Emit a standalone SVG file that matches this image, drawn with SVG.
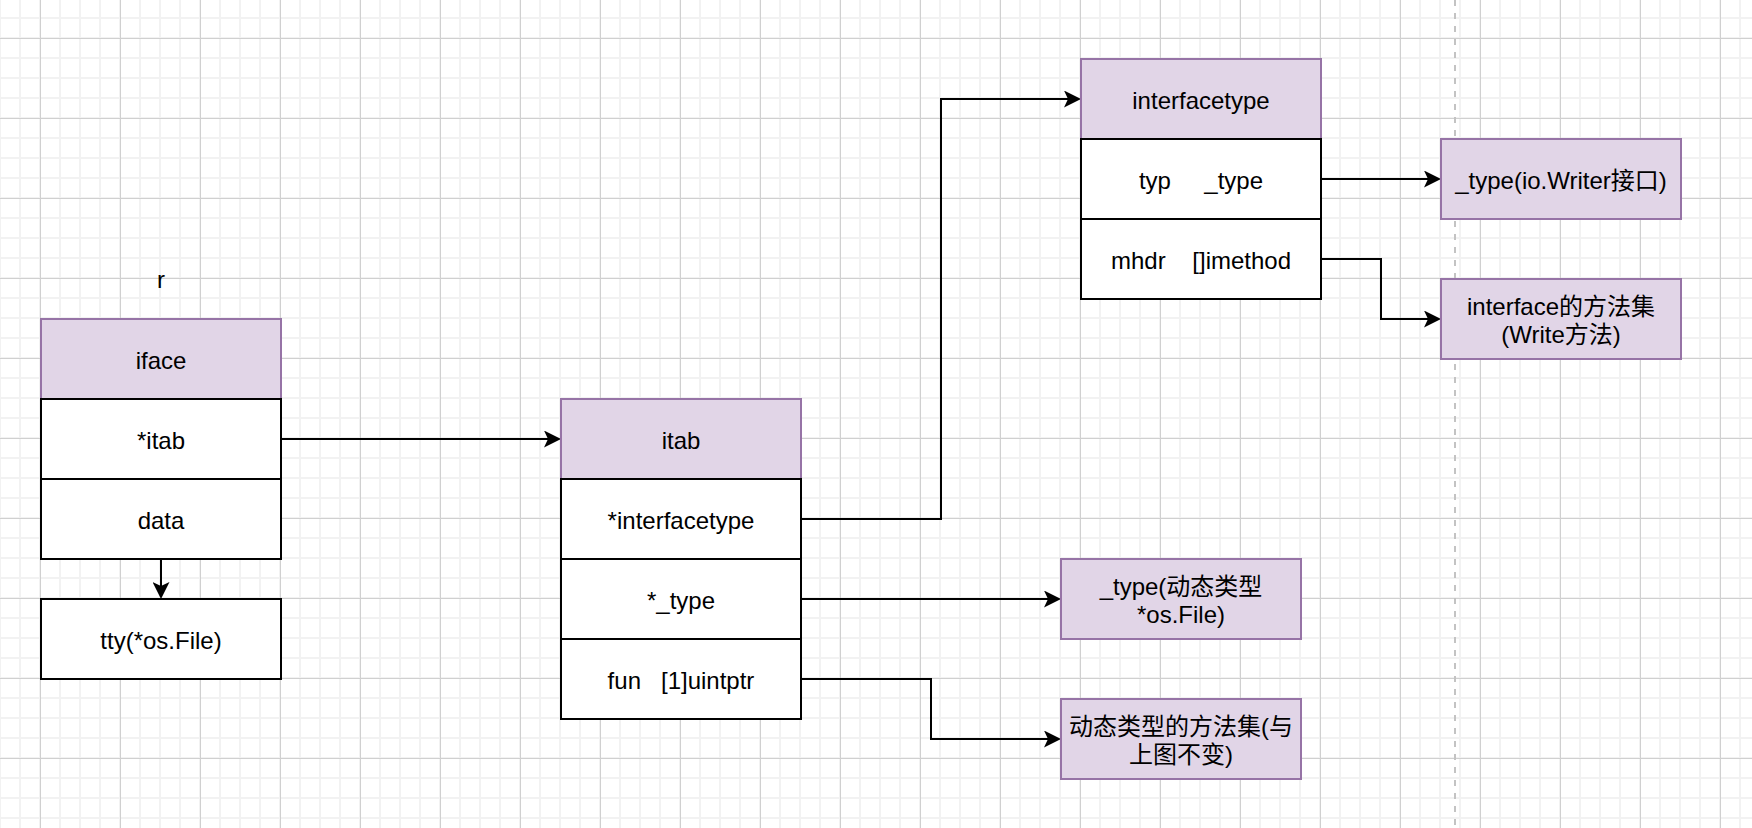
<svg xmlns="http://www.w3.org/2000/svg" width="1752" height="828" viewBox="0 0 1752 828">
<style>
.t{font-family:"Liberation Sans","Noto Sans CJK SC",sans-serif;font-size:24px;fill:#000;text-anchor:middle;white-space:pre}
.hdr{fill:#e1d5e7;stroke:#9673a6;stroke-width:2}
.row{fill:#ffffff;stroke:#000;stroke-width:2}
.edge{fill:none;stroke:#000;stroke-width:2}
</style>
<defs>
<pattern id="minor" x="-1" y="-3" width="20" height="20" patternUnits="userSpaceOnUse">
<rect x="0" y="0" width="2" height="20" fill="#f2f2f2"/>
<rect x="0" y="0" width="20" height="2" fill="#f2f2f2"/>
</pattern>
<pattern id="major" x="40" y="38" width="80" height="80" patternUnits="userSpaceOnUse">
<rect x="0" y="0" width="1" height="80" fill="#d0d0d0"/>
<rect x="0" y="0" width="80" height="1" fill="#d0d0d0"/>
</pattern>
<marker id="arr" markerUnits="userSpaceOnUse" markerWidth="17" markerHeight="17" viewBox="0 0 17 17" refX="4" refY="8.5" orient="auto">
<path d="M17,8.5 L0,0 L4,8.5 L0,17 Z" fill="#000"/>
</marker>
</defs>
<rect width="1752" height="828" fill="#ffffff"/>
<rect width="1752" height="828" fill="url(#minor)"/>
<rect width="1752" height="828" fill="url(#major)"/>
<line x1="1455" y1="0" x2="1455" y2="828" stroke="#c3c3c3" stroke-width="2" stroke-dasharray="6 7"/>

<g transform="translate(1,1)">
<text class="t" x="160" y="287">r</text>

<g id="connectors">
<path class="edge" d="M280,438 H547" marker-end="url(#arr)"/>
<path class="edge" d="M800,518 H940 V98 H1067" marker-end="url(#arr)"/>
<path class="edge" d="M800,598 H1047" marker-end="url(#arr)"/>
<path class="edge" d="M800,678 H930 V738 H1047" marker-end="url(#arr)"/>
<path class="edge" d="M1320,178 H1427" marker-end="url(#arr)"/>
<path class="edge" d="M1320,258 H1380 V318 H1427" marker-end="url(#arr)"/>
<path class="edge" d="M160,558 V585" marker-end="url(#arr)"/>
</g>

<g id="iface">
<rect class="hdr" x="40" y="318" width="240" height="80"/>
<text class="t" x="160" y="368">iface</text>
<rect class="row" x="40" y="398" width="240" height="80"/>
<text class="t" x="160" y="448">*itab</text>
<rect class="row" x="40" y="478" width="240" height="80"/>
<text class="t" x="160" y="528">data</text>
</g>

<g id="tty">
<rect class="row" x="40" y="598" width="240" height="80"/>
<text class="t" x="160" y="648">tty(*os.File)</text>
</g>

<g id="itab">
<rect class="hdr" x="560" y="398" width="240" height="80"/>
<text class="t" x="680" y="448">itab</text>
<rect class="row" x="560" y="478" width="240" height="80"/>
<text class="t" x="680" y="528">*interfacetype</text>
<rect class="row" x="560" y="558" width="240" height="80"/>
<text class="t" x="680" y="608">*_type</text>
<rect class="row" x="560" y="638" width="240" height="80"/>
<text class="t" x="680" y="688" xml:space="preserve">fun   [1]uintptr</text>
</g>

<g id="interfacetype">
<rect class="hdr" x="1080" y="58" width="240" height="80"/>
<text class="t" x="1200" y="108">interfacetype</text>
<rect class="row" x="1080" y="138" width="240" height="80"/>
<text class="t" x="1200" y="188" xml:space="preserve">typ     _type</text>
<rect class="row" x="1080" y="218" width="240" height="80"/>
<text class="t" x="1200" y="268" xml:space="preserve">mhdr    []imethod</text>
</g>

<g id="writer-type">
<rect class="hdr" x="1440" y="138" width="240" height="80"/>
<text class="t" x="1560" y="188">_type(io.Writer接口)</text>
</g>

<g id="iface-methods">
<rect class="hdr" x="1440" y="278" width="240" height="80"/>
<text class="t" x="1560" y="314">interface的方法集</text>
<text class="t" x="1560" y="342">(Write方法)</text>
</g>

<g id="dyn-type">
<rect class="hdr" x="1060" y="558" width="240" height="80"/>
<text class="t" x="1180" y="594">_type(动态类型</text>
<text class="t" x="1180" y="622">*os.File)</text>
</g>

<g id="dyn-methods">
<rect class="hdr" x="1060" y="698" width="240" height="80"/>
<text class="t" x="1180" y="734">动态类型的方法集(与</text>
<text class="t" x="1180" y="762">上图不变)</text>
</g>
</g>
</svg>
